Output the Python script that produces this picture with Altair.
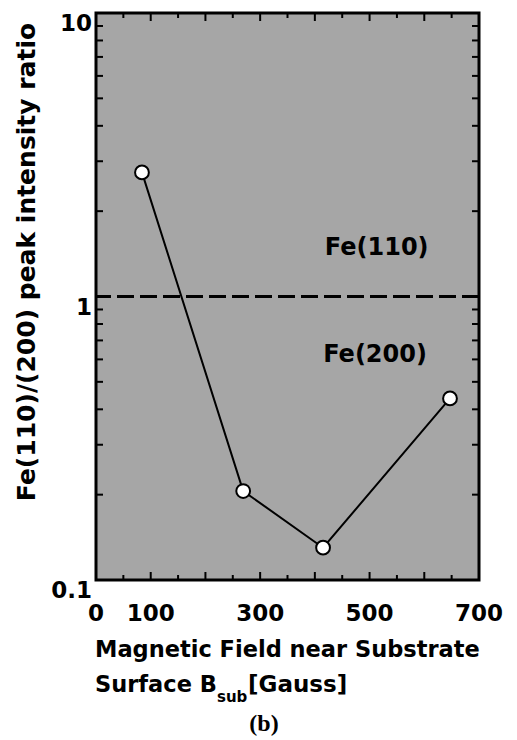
import altair as alt
import pandas as pd

# ---- data ----
field_gauss = [84, 269, 415, 647]
ratio = [2.74, 0.206, 0.130, 0.437]

boundary_ratio = [1.0]

phase_labels = ["Fe(110)", "Fe(200)"]
phase_x = [513, 510]
phase_y = [1.48, 0.62]

x_tick_labels = [0, 100, 300, 500, 700]
x_tick_texts = ["0", "100", "300", "500", "700"]
x_major_ticks = [0, 100, 200, 300, 400, 500, 600, 700]
x_minor_ticks = [50, 150, 250, 350, 450, 550, 650]
y_tick_labels = [0.1, 1, 10]
y_tick_texts = ["0.1", "1", "10"]
y_major_ticks = [1]
y_minor_ticks = [0.2, 0.3, 0.4, 0.5, 0.6, 0.7, 0.8, 0.9, 2, 3, 4, 5, 6, 7, 8, 9]

x_title_line1 = ["Magnetic Field near Substrate"]
x_title_line2a = ["Surface B"]
x_title_sub = ["sub"]
x_title_line2b = ["[Gauss]"]
y_title = ["Fe(110)/(200) peak intensity ratio"]
panel_label = ["(b)"]

# ---- layout / style ----
W, H = 383, 567
FONT = "DejaVu Sans"
BG = "#a6a6a6"

xscale = alt.Scale(domain=[0, 700], nice=False, zero=False)
yscale = alt.Scale(type="log", domain=[0.1, 10], nice=False)


def X(field):
    return alt.X(field, scale=xscale, axis=None)


def Y(field):
    return alt.Y(field, scale=yscale, axis=None)


df = pd.DataFrame({"B": field_gauss, "R": ratio})

line = alt.Chart(df).mark_line(color="black", strokeWidth=2).encode(
    x=X("B:Q"), y=Y("R:Q"))
points = alt.Chart(df).mark_circle(size=190, fill="white", stroke="black",
                                   strokeWidth=2, opacity=1, fillOpacity=1).encode(
    x=X("B:Q"), y=Y("R:Q"))
dash = alt.Chart(pd.DataFrame({"y": boundary_ratio})).mark_rule(
    color="black", strokeWidth=3, strokeDash=[17, 6]).encode(y=Y("y:Q"))

phase = alt.Chart(pd.DataFrame({"t": phase_labels, "x": phase_x, "y": phase_y})).mark_text(
    font=FONT, fontSize=24, fontWeight="bold", color="black", align="center",
    baseline="middle").encode(x=X("x:Q"), y=Y("y:Q"), text="t:N")

x_labels = alt.Chart(pd.DataFrame({"v": x_tick_labels, "t": x_tick_texts})).mark_text(
    font=FONT, fontSize=23, fontWeight="bold", color="black", align="center",
    baseline="top").encode(x=X("v:Q"), y=alt.value(H + 23), text="t:N")
y_labels = alt.Chart(pd.DataFrame({"v": y_tick_labels, "t": y_tick_texts})).mark_text(
    font=FONT, fontSize=23, fontWeight="bold", color="black", align="right",
    baseline="top").encode(y=Y("v:Q"), x=alt.value(-4), text="t:N")


def xticks(vals, length):
    d = pd.DataFrame({"t": vals})
    bottom = alt.Chart(d).mark_rule(color="black", strokeWidth=2).encode(
        x=X("t:Q"), y=alt.value(H), y2=alt.value(H - length))
    top = alt.Chart(d).mark_rule(color="black", strokeWidth=2).encode(
        x=X("t:Q"), y=alt.value(0), y2=alt.value(length))
    return [bottom, top]


def yticks(vals, length):
    d = pd.DataFrame({"t": vals})
    left = alt.Chart(d).mark_rule(color="black", strokeWidth=2).encode(
        y=Y("t:Q"), x=alt.value(0), x2=alt.value(length))
    right = alt.Chart(d).mark_rule(color="black", strokeWidth=2).encode(
        y=Y("t:Q"), x=alt.value(W), x2=alt.value(W - length))
    return [left, right]


def label(texts, x, y, size, align="left", angle=0, font=FONT):
    return alt.Chart(pd.DataFrame({"t": texts})).mark_text(
        font=font, fontSize=size, fontWeight="bold", color="black", align=align,
        baseline="alphabetic", angle=angle).encode(
        text="t:N", x=alt.value(x), y=alt.value(y))


titles = [
    label(x_title_line1, -1, 644, 22.5),
    label(x_title_line2a, -1, 679, 22.5),
    label(x_title_sub, 121, 689, 15),
    label(x_title_line2b, 152, 679, 23),
    alt.Chart(pd.DataFrame({"t": y_title})).mark_text(
        font=FONT, fontSize=25, fontWeight="bold", color="black", align="center",
        baseline="middle", angle=270).encode(text="t:N", x=alt.value(-69), y=alt.value(249)),
    label(panel_label, 168, 718, 24, align="center", font="Liberation Serif"),
]

layers = ([line, dash, points, phase, x_labels, y_labels]
          + xticks(x_major_ticks, 8) + xticks(x_minor_ticks, 5)
          + yticks(y_major_ticks, 10) + yticks(y_minor_ticks, 7)
          + titles)

chart = alt.layer(*layers).properties(
    width=W, height=H,
    autosize=alt.AutoSizeParams(type="none"),
    padding={"left": 88, "top": 5, "right": 30, "bottom": 158},
).configure_view(fill=BG, stroke="black", strokeWidth=3)

chart.save("out.html", embed_options={"renderer": "svg", "actions": False})
